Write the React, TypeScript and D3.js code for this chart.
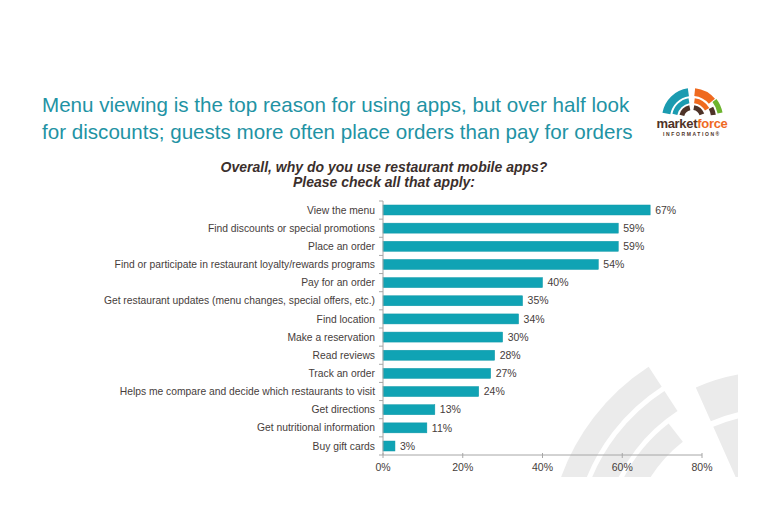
import React from 'react';
import * as d3 from 'd3';

const WIDTH = 770;
const HEIGHT = 520;
const MARGIN = { top: 201, right: 68, bottom: 65, left: 383 };

const reasons = [
  'View the menu',
  'Find discounts or special promotions',
  'Place an order',
  'Find or participate in restaurant loyalty/rewards programs',
  'Pay for an order',
  'Get restaurant updates (menu changes, special offers, etc.)',
  'Find location',
  'Make a reservation',
  'Read reviews',
  'Track an order',
  'Helps me compare and decide which restaurants to visit',
  'Get directions',
  'Get nutritional information',
  'Buy gift cards',
];
const shares = [67, 59, 59, 54, 40, 35, 34, 30, 28, 27, 24, 13, 11, 3];
const xTicks = [0, 20, 40, 60, 80];

const titleLines = [
  'Menu viewing is the top reason for using apps, but over half look',
  'for discounts; guests more often place orders than pay for orders',
];
const subtitleLines = ['Overall, why do you use restaurant mobile apps?', 'Please check all that apply:'];

const FONT = "Arial, 'Liberation Sans', sans-serif";
const BAR = '#10a3b4';
const TEXT = '#463d3b';

// faint logo watermark behind the lower right of the chart
const Watermark = () => {
  const cx = 769;
  const cy = 552;
  const deg = Math.PI / 180;
  const bands = [
    { r0: 197, r1: 221, a0: -72, a1: -33 },
    { r0: 168, r1: 192, a0: -72, a1: -33 },
    { r0: 140, r1: 163, a0: -72, a1: -38 },
    { r0: 143, r1: 180, a0: -24, a1: 10 },
    { r0: 60, r1: 137, a0: -24, a1: 10 },
  ];
  const arc = d3.arc<any>();
  return (
    <g>
      <defs>
        <clipPath id="wm-clip">
          <rect x={540} y={340} width={198} height={137} />
        </clipPath>
      </defs>
      <g clipPath="url(#wm-clip)">
        <g transform={`translate(${cx},${cy})`}>
          {bands.map((b, i) => (
            <path
              key={i}
              d={arc({ innerRadius: b.r0, outerRadius: b.r1, startAngle: b.a0 * deg, endAngle: b.a1 * deg }) || ''}
              fill="#ebebeb"
            />
          ))}
        </g>
      </g>
    </g>
  );
};

const Logo = () => {
  const deg = Math.PI / 180;
  const arc = d3.arc<any>();
  const parts = [
    { r0: 22, r1: 30, a0: -80, a1: -8, c: '#1b9bb0' },
    { r0: 15, r1: 20, a0: -78, a1: -10, c: '#1b9bb0' },
    { r0: 8, r1: 13, a0: -75, a1: -12, c: '#4e3328' },
    { r0: 22, r1: 30, a0: 6, a1: 50, c: '#ef6a1f' },
    { r0: 15, r1: 20, a0: 8, a1: 60, c: '#ef6a1f' },
    { r0: 8, r1: 13, a0: 10, a1: 70, c: '#4e3328' },
    { r0: 26, r1: 31, a0: 52, a1: 80, c: '#6db42f' },
    { r0: 19, r1: 24, a0: 62, a1: 82, c: '#4e3328' },
  ];
  return (
    <g>
      <g transform="translate(692,118)">
        {parts.map((p, i) => (
          <path
            key={i}
            d={arc({ innerRadius: p.r0, outerRadius: p.r1, startAngle: p.a0 * deg, endAngle: p.a1 * deg }) || ''}
            fill={p.c}
          />
        ))}
      </g>
      <text x={692} y={128} textAnchor="middle" fontFamily={FONT} fontSize={13} fontWeight="bold" letterSpacing={-0.3}>
        <tspan fill="#4e3328">market</tspan>
        <tspan fill="#ef6a1f">force</tspan>
      </text>
      <text x={692} y={136} textAnchor="middle" fontFamily={FONT} fontSize={5} fontWeight="bold" fill="#4e3328" letterSpacing={1.6}>
        INFORMATION®
      </text>
    </g>
  );
};

const App = () => {
  const boundsWidth = WIDTH - MARGIN.left - MARGIN.right;
  const boundsHeight = HEIGHT - MARGIN.top - MARGIN.bottom;

  const xScale = d3.scaleLinear().domain([0, 80]).range([0, boundsWidth]);
  const yScale = d3.scaleBand<string>().domain(reasons).range([0, boundsHeight]).paddingInner(0.45).paddingOuter(0.22);
  const step = boundsHeight / reasons.length;

  return (
    <svg width={WIDTH} height={HEIGHT} style={{ position: 'absolute', left: 0, top: 0, background: '#fff' }}>
      <Watermark />

      {titleLines.map((line, i) => (
        <text key={i} x={42} y={112 + i * 27} fontFamily={FONT} fontSize={20.6} fill="#1f93a4">
          {line}
        </text>
      ))}

      {subtitleLines.map((line, i) => (
        <text
          key={i}
          x={384}
          y={172 + i * 15}
          textAnchor="middle"
          fontFamily={FONT}
          fontSize={14}
          fontWeight="bold"
          fontStyle="italic"
          fill="#3b2f2c"
        >
          {line}
        </text>
      ))}

      <Logo />

      <g transform={`translate(${MARGIN.left},${MARGIN.top})`}>
        {reasons.map((r, i) => {
          const y = yScale(r) ?? 0;
          const w = xScale(shares[i]);
          return (
            <g key={r}>
              <rect x={0} y={y} width={w} height={yScale.bandwidth()} fill={BAR} stroke="#0d97a7" strokeWidth={0.5} />
              <text
                x={-8}
                y={y + yScale.bandwidth() / 2}
                dy="0.35em"
                textAnchor="end"
                fontFamily={FONT}
                fontSize={10.3}
                fill={TEXT}
              >
                {r}
              </text>
              <text x={w + 5} y={y + yScale.bandwidth() / 2} dy="0.35em" fontFamily={FONT} fontSize={10.5} fill={TEXT}>
                {shares[i]}%
              </text>
            </g>
          );
        })}

        {/* category axis */}
        <line x1={0} x2={0} y1={0} y2={boundsHeight} stroke="#a6a6a6" />
        {d3.range(reasons.length + 1).map((i) => (
          <line key={i} x1={-4} x2={0} y1={i * step} y2={i * step} stroke="#a6a6a6" />
        ))}

        {/* value axis */}
        <line x1={0} x2={boundsWidth} y1={boundsHeight} y2={boundsHeight} stroke="#a6a6a6" />
        {xTicks.map((t) => (
          <g key={t} transform={`translate(${xScale(t)},${boundsHeight})`}>
            <line y1={-2} y2={3} stroke="#a6a6a6" />
            <text y={16} textAnchor="middle" fontFamily={FONT} fontSize={10.5} fill={TEXT}>
              {t}%
            </text>
          </g>
        ))}
      </g>
    </svg>
  );
};

export default App;
